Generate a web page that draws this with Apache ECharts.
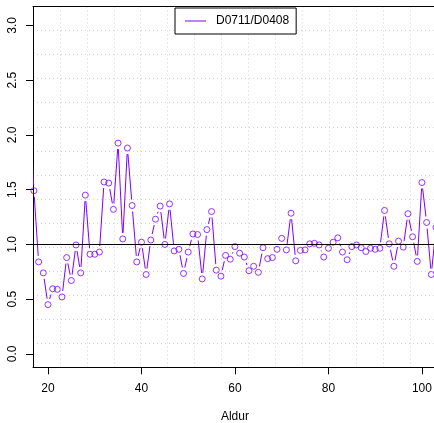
<!DOCTYPE html>
<html>
<head>
<meta charset="utf-8">
<script src="https://cdn.jsdelivr.net/npm/echarts@6/dist/echarts.min.js"></script>
<style>
html,body{margin:0;padding:0;background:#fff;}
#chart{width:434px;height:423px;}
</style>
</head>
<body>
<div id="chart"></div>
<script>
// ---- data ----
const ages = [16,17,18,19,20,21,22,23,24,25,26,27,28,29,30,31,32,33,34,35,36,37,38,39,40,
  41,42,43,44,45,46,47,48,49,50,51,52,53,54,55,56,57,58,59,60,61,62,63,64,65,66,67,68,69,70,
  71,72,73,74,75,76,77,78,79,80,81,82,83,84,85,86,87,88,89,90,91,92,93,94,95,96,97,98,99,100,
  101,102,103];
const ratio = [2.30,1.49,0.84,0.74,0.45,0.595,0.59,0.52,0.88,0.67,0.995,0.74,1.45,0.91,0.91,0.93,1.57,1.56,1.32,1.925,1.05,1.88,1.355,0.84,1.02,
  0.725,1.04,1.23,1.35,1.00,1.37,0.94,0.955,0.735,0.93,1.095,1.09,0.685,1.135,1.30,0.765,0.71,0.90,0.865,0.98,0.92,0.885,0.76,0.80,0.745,0.97,0.87,0.88,0.955,1.055,
  0.95,1.285,0.85,0.945,0.95,1.005,1.01,0.995,0.885,0.965,1.02,1.06,0.93,0.86,0.98,0.995,0.97,0.935,0.965,0.955,0.965,1.31,1.005,0.80,1.03,0.975,1.28,1.07,0.845,1.565,
  1.20,0.725,1.155];
const xTicks = [20,40,60,80,100];
const yTicks = [0,0.5,1,1.5,2,2.5,3];
const seriesName = 'D0711/D0408';
const refLevel = 1;
const xLabel = 'Aldur';

// ---- styling ----
const COLOR = '#7f00ff';
const FONT = "'Liberation Sans', Arial, Helvetica, sans-serif";
const GAP = 6;

const points = ages.map((a, i) => [a, ratio[i]]);
const segs = [];
for (let i = 0; i < ages.length - 1; i++) {
  segs.push([ages[i], ratio[i], ages[i + 1], ratio[i + 1]]);
}

const chart = echarts.init(document.getElementById('chart'), null, {renderer: 'canvas'});
const gridSplit = {show: true, lineStyle: {color: '#d3d3d3', width: 1, type: [1, 3]}};

chart.setOption({
  animation: false,
  backgroundColor: '#fff',
  textStyle: {fontFamily: FONT},
  grid: {left: 33, top: 6.5, right: -2.9, bottom: 55.7, containLabel: false, outerBoundsMode: 'none'},
  legend: {
    data: [{name: seriesName}],
    icon: 'rect',
    itemWidth: 21,
    itemHeight: 1,
    left: 175,
    top: 8,
    padding: [7, 7, 7, 10],
    borderColor: '#000',
    borderWidth: 1,
    borderRadius: 0,
    backgroundColor: '#fff',
    selectedMode: false,
    textStyle: {fontSize: 12, color: '#000', fontFamily: FONT, padding: [0, 0, 0, 5]}
  },
  xAxis: [
    {
      type: 'value', min: 16.8, max: 103.2, position: 'bottom',
      axisLine: {show: true, onZero: false, lineStyle: {color: '#000', width: 1}},
      axisTick: {show: true, inside: false, length: 7, customValues: xTicks, lineStyle: {color: '#000'}},
      axisLabel: {show: true, customValues: xTicks, margin: 15, fontSize: 12, color: '#000', fontFamily: FONT},
      splitLine: {show: false},
      name: xLabel, nameLocation: 'middle', nameGap: 43,
      nameTextStyle: {fontSize: 12, color: '#000', fontFamily: FONT}
    },
    {
      type: 'value', min: 0, max: 15, interval: 1, position: 'top',
      axisLine: {show: true, onZero: false, lineStyle: {color: '#000', width: 1}},
      axisTick: {show: false}, axisLabel: {show: false},
      splitLine: gridSplit
    }
  ],
  yAxis: [
    {
      type: 'value', min: -0.122, max: 3.172, position: 'left',
      axisLine: {show: true, onZero: false, lineStyle: {color: '#000', width: 1}},
      axisTick: {show: true, inside: false, length: 7, customValues: yTicks, lineStyle: {color: '#000'}},
      axisLabel: {show: true, customValues: yTicks, rotate: 90, margin: 14, fontSize: 12, color: '#000',
        fontFamily: FONT, formatter: v => Number(v).toFixed(1)},
      splitLine: {show: false}
    },
    {
      type: 'value', min: 0, max: 15, interval: 1, position: 'right',
      axisLine: {show: true, onZero: false, lineStyle: {color: '#000', width: 1}},
      axisTick: {show: false}, axisLabel: {show: false},
      splitLine: gridSplit
    }
  ],
  series: [
    {
      name: seriesName,
      type: 'custom',
      xAxisIndex: 0, yAxisIndex: 0,
      itemStyle: {color: COLOR},
      data: segs,
      encode: {x: [0, 2], y: [1, 3]},
      silent: true,
      renderItem: function (params, api) {
        const a = api.coord([api.value(0), api.value(1)]);
        const b = api.coord([api.value(2), api.value(3)]);
        const dx = b[0] - a[0], dy = b[1] - a[1];
        const L = Math.sqrt(dx * dx + dy * dy);
        if (L === 0) return null;
        const f = GAP / L;
        if (f >= 0.5) return null;
        const cs = params.coordSys;
        return {
          type: 'group',
          children: [{
            type: 'line',
            shape: {x1: a[0] + f * dx, y1: a[1] + f * dy, x2: b[0] - f * dx, y2: b[1] - f * dy},
            style: {stroke: COLOR, lineWidth: 1}
          }],
          clipPath: {type: 'rect', shape: {x: cs.x, y: cs.y, width: cs.width, height: cs.height}}
        };
      }
    },
    {
      name: 'points',
      type: 'scatter',
      xAxisIndex: 0, yAxisIndex: 0,
      data: points,
      symbol: 'circle',
      symbolSize: 6,
      clip: true,
      silent: true,
      itemStyle: {color: 'rgba(0,0,0,0)', borderColor: COLOR, borderWidth: 1},
      markLine: {
        silent: true,
        symbol: ['none', 'none'],
        label: {show: false},
        lineStyle: {color: '#000', width: 1, type: 'solid'},
        data: [{yAxis: refLevel}]
      }
    }
  ]
});
</script>
</body>
</html>
